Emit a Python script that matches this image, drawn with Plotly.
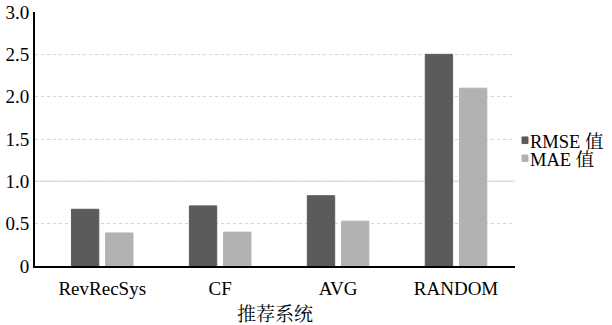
import plotly.graph_objects as go

categories = ["RevRecSys", "CF", "AVG", "RANDOM"]
rmse_values = [0.67, 0.71, 0.83, 2.50]
mae_values = [0.39, 0.40, 0.53, 2.10]
series_names = ["RMSE 值", "MAE 值"]
x_title = "推荐系统"
y_tickvals = [0, 0.5, 1.0, 1.5, 2.0, 2.5, 3.0]
y_ticktext = ["0", "0.5", "1.0", "1.5", "2.0", "2.5", "3.0"]

colors = ["#5b5b5b", "#b2b2b2"]
FONT = "Liberation Serif, Times New Roman, Noto Serif CJK SC, Noto Sans CJK SC, serif"

fig = go.Figure()
for name, vals, c in zip(series_names, [rmse_values, mae_values], colors):
    fig.add_trace(go.Bar(
        x=categories, y=vals, name=name,
        marker=dict(color=c, line=dict(color=c, width=1)),
        showlegend=False,
    ))

# custom legend (small square markers + text)
legend_y = [0.488, 0.417]
for name, c, ly in zip(series_names, colors, legend_y):
    fig.add_shape(type="rect", xref="paper", yref="paper",
                  x0=1.0146, x1=1.0271, y0=ly - 0.006, y1=ly + 0.020,
                  fillcolor=c, line=dict(color=c, width=1))
    fig.add_annotation(text=name, xref="paper", yref="paper",
                       x=1.027, y=ly, xanchor="left", yanchor="middle",
                       showarrow=False, font=dict(size=18.5, color="black", family=FONT))

# the 1.0 gridline is drawn solid in the reference
fig.add_hline(y=y_tickvals[2], line=dict(color="#e0e0e0", width=1.5), layer="below")

fig.update_layout(
    width=612, height=325,
    margin=dict(l=35, r=97, t=12, b=59),
    paper_bgcolor="white", plot_bgcolor="white",
    barmode="group", bargap=0.42, bargroupgap=0.2,
    font=dict(family=FONT, size=19, color="black"),
    xaxis=dict(
        range=[-0.57, 3.5], automargin=False,
        showline=True, linecolor="black", linewidth=2,
        ticks="", showgrid=False, ticklabelstandoff=4,
        tickfont=dict(size=19, family=FONT, color="black"),
        title=dict(text=x_title, font=dict(size=19, family=FONT, color="black"), standoff=10),
    ),
    yaxis=dict(
        range=[0, 3.0], automargin=False,
        tickvals=y_tickvals, ticktext=y_ticktext,
        showline=True, linecolor="black", linewidth=2,
        ticks="", ticklen=0,
        showgrid=True, gridcolor="#d4d4d4", gridwidth=1, griddash="dot",
        zeroline=False,
        tickfont=dict(size=19, family=FONT, color="black"),
    ),
)

fig.write_html("out.html", config={"displayModeBar": False},
               post_script="document.body.style.margin='0';")
